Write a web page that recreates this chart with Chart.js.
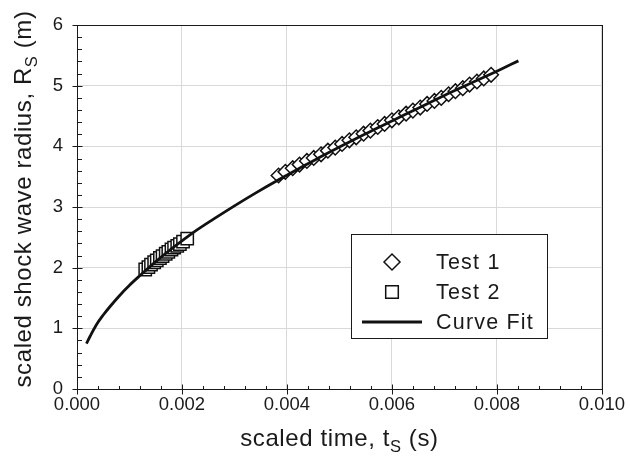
<!DOCTYPE html>
<html>
<head>
<meta charset="utf-8">
<script src="https://cdn.jsdelivr.net/npm/chart.js@4.4.1/dist/chart.umd.min.js"></script>
<style>
  html, body { margin: 0; padding: 0; background: #fff; }
</style>
</head>
<body>
<canvas id="myChart" width="630" height="467"></canvas>
<script>
// scaled time (s) and scaled shock wave radius (m)
var test1Time = [0.00384, 0.00397, 0.00411, 0.00424, 0.00438, 0.00451, 0.00465, 0.00478,
  0.00492, 0.00505, 0.00519, 0.00532, 0.00546, 0.00559, 0.00573, 0.00586, 0.00600, 0.00613,
  0.00627, 0.00640, 0.00654, 0.00667, 0.00681, 0.00694, 0.00708, 0.00721, 0.00735, 0.00748,
  0.00762, 0.00775, 0.00789];
var test1Radius = [3.52, 3.58, 3.64, 3.70, 3.76, 3.81, 3.87, 3.93, 3.98, 4.04, 4.10, 4.15,
  4.21, 4.26, 4.32, 4.37, 4.43, 4.48, 4.54, 4.59, 4.64, 4.70, 4.75, 4.80, 4.86, 4.91, 4.96,
  5.02, 5.07, 5.12, 5.18];

var test2Time = [0.00130, 0.00136, 0.00141, 0.00147, 0.00152, 0.00158, 0.00163, 0.00169,
  0.00174, 0.00180, 0.00185, 0.00191, 0.00196, 0.00202, 0.00210];
var test2Radius = [1.97, 2.01, 2.05, 2.09, 2.12, 2.16, 2.19, 2.23, 2.26, 2.30, 2.33, 2.36,
  2.39, 2.43, 2.48];

var fitTime = [0.00018, 0.00025, 0.00037, 0.0005, 0.00063, 0.0008, 0.0010, 0.0012, 0.0015,
  0.0018, 0.0022, 0.0026, 0.0030, 0.0034, 0.0038, 0.0042, 0.0046, 0.0050, 0.0055, 0.0060,
  0.0065, 0.0070, 0.0075, 0.0080, 0.00841];
var fitRadius = [0.75, 0.87, 1.06, 1.22, 1.36, 1.53, 1.71, 1.87, 2.10, 2.31, 2.57, 2.80,
  3.02, 3.23, 3.43, 3.62, 3.81, 3.99, 4.21, 4.42, 4.63, 4.84, 5.04, 5.24, 5.41];

var xTicks = [0, 0.002, 0.004, 0.006, 0.008, 0.010];
var yTicks = [0, 1, 2, 3, 4, 5, 6];

var FONT = '"Liberation Sans", Arial, sans-serif';
var INK = '#1a1a1a';

function points(xs, ys) {
  return xs.map(function(x, i) { return {x: x, y: ys[i]}; });
}

function drawMarker(ctx, style, x, y, r) {
  ctx.beginPath();
  if (style === 'rectRot') {
    ctx.moveTo(x - r, y); ctx.lineTo(x, y - r); ctx.lineTo(x + r, y); ctx.lineTo(x, y + r);
  } else {
    ctx.rect(x - r, y - r, 2 * r, 2 * r);
  }
  ctx.closePath();
  ctx.fillStyle = '#fff';
  ctx.fill();
  ctx.stroke();
}

// frame, minor ticks, axis titles with subscripts and the boxed legend
var decorations = {
  id: 'decorations',
  afterDraw: function(chart) {
    var ctx = chart.ctx, a = chart.chartArea;
    var xs = chart.scales.x, ys = chart.scales.y;
    var L = Math.round(a.left) + 0.5, R = Math.round(a.right) + 0.5;
    var T = Math.round(a.top) + 0.5, B = Math.round(a.bottom) + 0.5;
    ctx.save();
    ctx.strokeStyle = INK;
    ctx.lineWidth = 1;
    ctx.strokeRect(L, T, R - L, B - T);

    ctx.beginPath();
    for (var i = 0; i <= 25; i++) {
      var px = Math.round(xs.getPixelForValue(i * 0.0004)) + 0.5;
      var major = i % 5 === 0;
      ctx.moveTo(px, B + (major ? 5 : 0));
      ctx.lineTo(px, B - (major ? 5 : 3.5));
    }
    for (var j = 0; j <= 30; j++) {
      var py = Math.round(ys.getPixelForValue(j * 0.2)) + 0.5;
      var maj = j % 5 === 0;
      ctx.moveTo(L - (maj ? 5 : 0), py);
      ctx.lineTo(L + (maj ? 5 : 4.5), py);
    }
    ctx.stroke();

    // axis titles
    ctx.fillStyle = INK;
    ctx.textBaseline = 'alphabetic';
    ctx.textAlign = 'left';
    ctx.letterSpacing = '0.6px';
    function subTitle(parts, cx, cy) {
      var big = '24px ' + FONT, small = '16.5px ' + FONT;
      ctx.font = big; var w0 = ctx.measureText(parts[0]).width;
      ctx.font = small; var w1 = ctx.measureText(parts[1]).width;
      ctx.font = big; var w2 = ctx.measureText(parts[2]).width;
      var x0 = cx - (w0 + w1 + w2) / 2;
      ctx.font = big; ctx.fillText(parts[0], x0, cy);
      ctx.font = small; ctx.fillText(parts[1], x0 + w0, cy + 6);
      ctx.font = big; ctx.fillText(parts[2], x0 + w0 + w1, cy);
    }
    subTitle(['scaled time, t', 'S', ' (s)'], (a.left + a.right) / 2, 446);
    ctx.save();
    ctx.translate(31, 199);
    ctx.rotate(-Math.PI / 2);
    subTitle(['scaled shock wave radius, R', 'S', ' (m)'], 0, 0);
    ctx.restore();

    // legend
    var box = {left: 351.5, top: 234.5, width: 196, height: 104};
    ctx.fillStyle = '#fff';
    ctx.fillRect(box.left, box.top, box.width, box.height);
    ctx.strokeStyle = INK;
    ctx.strokeRect(box.left, box.top, box.width, box.height);
    var rows = [262, 292, 322];
    ctx.font = '21.5px ' + FONT;
    ctx.letterSpacing = '1.2px';
    ctx.textBaseline = 'middle';
    chart.data.datasets.forEach(function(ds, k) {
      var y = rows[k];
      ctx.strokeStyle = ds.borderColor;
      if (ds.showLine) {
        ctx.lineWidth = ds.borderWidth;
        ctx.beginPath(); ctx.moveTo(362, y); ctx.lineTo(422, y); ctx.stroke();
      } else {
        ctx.lineWidth = 1.5;
        drawMarker(ctx, ds.pointStyle, 392, y, ds.pointStyle === 'rectRot' ? 8 : 6.3);
      }
      ctx.fillStyle = INK;
      ctx.fillText(ds.label, 436, y + 1);
    });
    ctx.restore();
  }
};

var ctx = document.getElementById('myChart');
var chart = new Chart(ctx, {
  type: 'scatter',
  data: {
    datasets: [{
      label: 'Test 1',
      data: points(test1Time, test1Radius),
      pointStyle: 'rectRot',
      pointRadius: 7.3,
      pointBorderWidth: 1.5,
      backgroundColor: '#fff',
      borderColor: '#111',
      order: 1
    }, {
      label: 'Test 2',
      data: points(test2Time, test2Radius),
      pointStyle: 'rect',
      pointRadius: 8.7,
      pointBorderWidth: 1.5,
      backgroundColor: '#fff',
      borderColor: '#111',
      order: 2
    }, {
      label: 'Curve Fit',
      data: points(fitTime, fitRadius),
      showLine: true,
      borderColor: '#111',
      borderWidth: 2.8,
      pointRadius: 0,
      cubicInterpolationMode: 'monotone',
      order: 0
    }]
  },
  options: {
    responsive: false,
    animation: false,
    layout: { padding: { top: 19, right: 25, left: 0, bottom: 0 } },
    plugins: { legend: { display: false }, tooltip: { enabled: false } },
    scales: {
      x: {
        type: 'linear',
        min: 0, max: 0.01,
        afterBuildTicks: function(s) { s.ticks = xTicks.map(function(v) { return {value: v}; }); },
        afterFit: function(s) { s.height = 78; },
        grid: { color: '#d9d9d9', drawTicks: false },
        border: { color: INK },
        ticks: {
          padding: 5,
          color: INK,
          font: { family: FONT, size: 18.5 },
          maxRotation: 0,
          callback: function(v) { return Number(v).toFixed(3); }
        }
      },
      y: {
        type: 'linear',
        min: 0, max: 6,
        afterBuildTicks: function(s) { s.ticks = yTicks.map(function(v) { return {value: v}; }); },
        afterFit: function(s) { s.width = 77; },
        grid: { color: '#d9d9d9', drawTicks: false },
        border: { color: INK },
        ticks: {
          padding: 14,
          color: INK,
          font: { family: FONT, size: 18.5 }
        }
      }
    }
  },
  plugins: [decorations]
});
</script>
</body>
</html>
